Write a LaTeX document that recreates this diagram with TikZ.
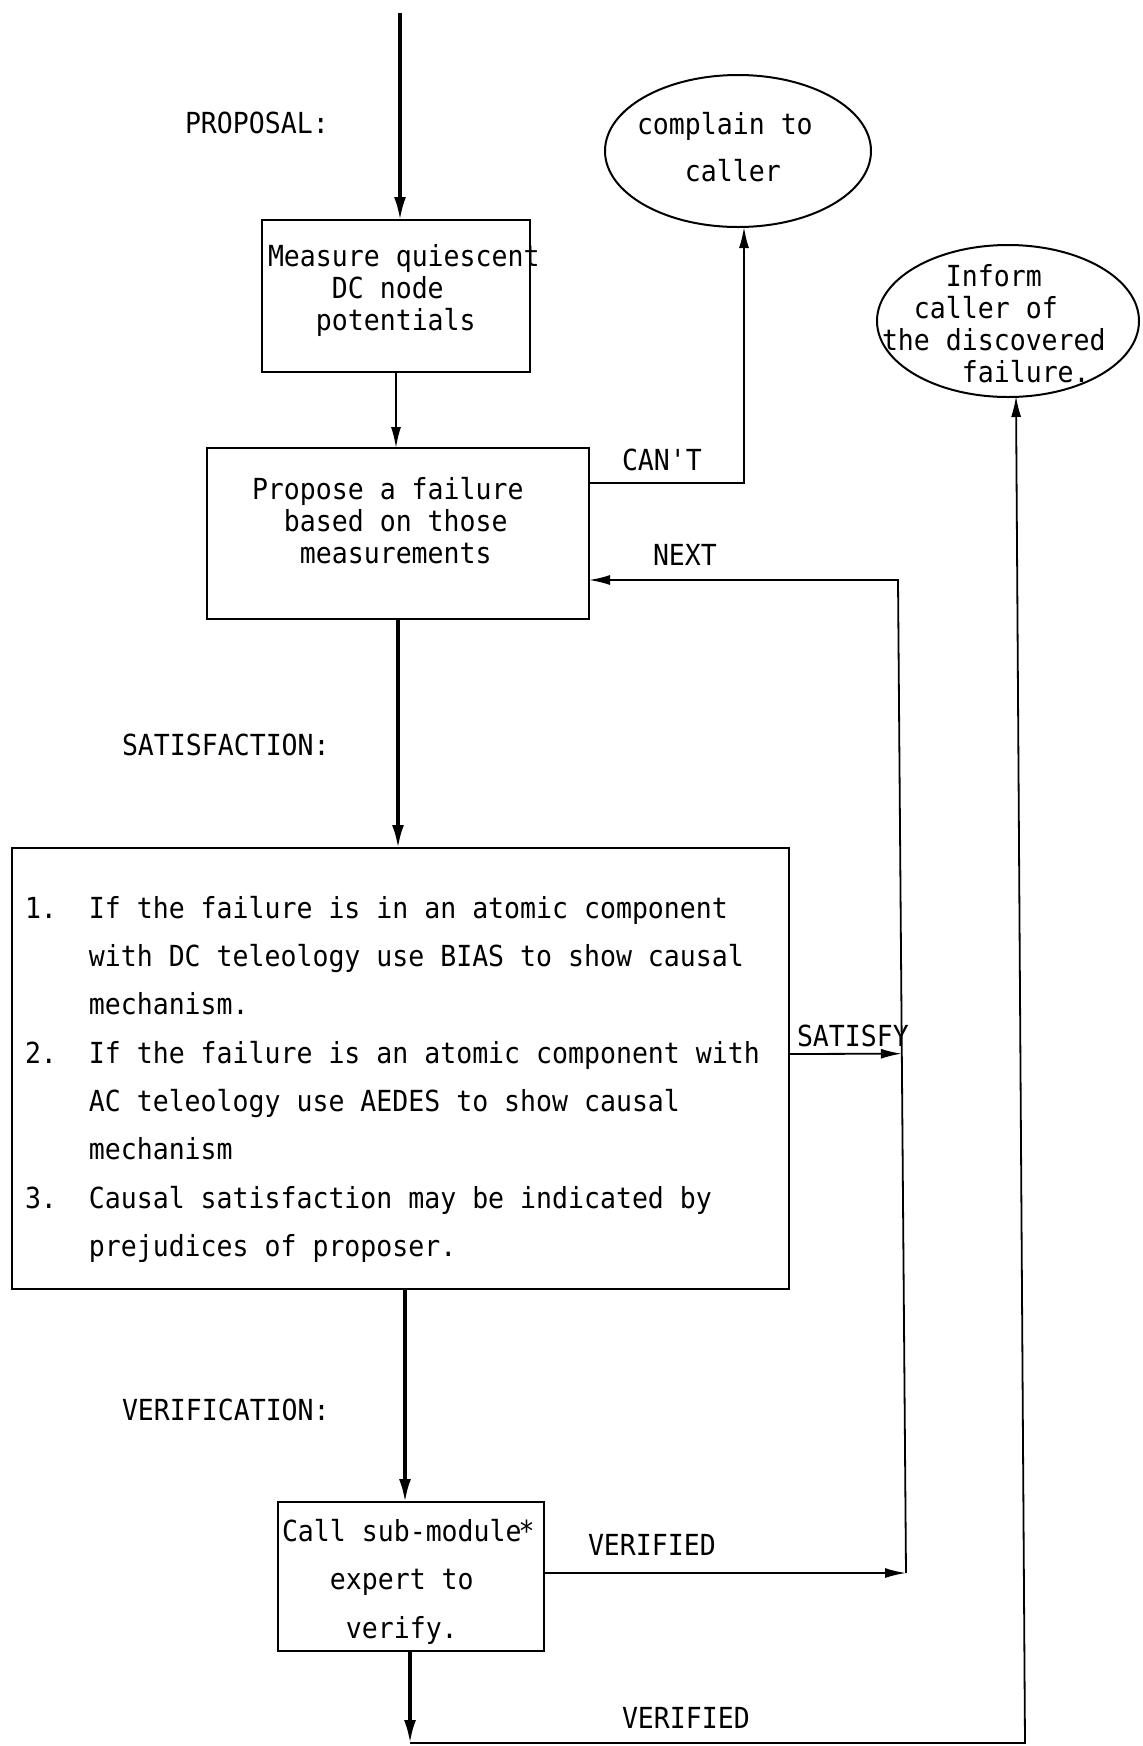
\documentclass[tikz,border=0pt]{standalone}
\usepackage{fontspec}
\setmonofont[FakeStretch=0.915]{DejaVu Sans Mono}
\usetikzlibrary{arrows.meta,shapes.geometric,calc}
\frenchspacing
\tikzset{
  txt/.style={font=\ttfamily\fontsize{29}{32}\selectfont, inner sep=0pt, outer sep=0pt, align=left},
  txtwide/.style={txt, font=\ttfamily\fontsize{29}{48.3}\selectfont},
  frame/.style={draw, line width=2pt, inner sep=0pt, outer sep=0pt},
  oval/.style={frame, ellipse},
  wire/.style={line width=1.8pt},
  flow/.style={wire, -{Latex[length=21pt,width=10pt]}},
  heavy/.style={line width=3.2pt, -{Latex[length=23pt,width=12pt]}},
}
\begin{document}
\begin{tikzpicture}[x=1pt,y=-1pt]
\fill[white] (0,0) rectangle (1143,1746);
\useasboundingbox (0,0) rectangle (1143,1746);

% boxes and ovals
\node[frame, minimum width=268pt, minimum height=152pt] (measure) at (396,296) {};
\node[frame, minimum width=382pt, minimum height=171pt] (propose) at (398,533.5) {};
\node[frame, minimum width=777pt, minimum height=441pt] (conds) at (400.5,1068.5) {};
\node[frame, minimum width=266pt, minimum height=149pt] (verify) at (411,1576.5) {};
\node[oval, minimum width=266pt, minimum height=152pt] (complain) at (738,151) {};
\node[oval, minimum width=262pt, minimum height=152pt] (inform) at (1008,321) {};

% texts inside the shapes
\node[txt, anchor=north west] (measuretext) at (268,244)
  {Measure quiescent\\\hphantom{0000}DC node\\\hphantom{000}potentials};
\node[txt, anchor=north west] (proposetext) at (252,477)
  {Propose a failure\\\hphantom{00}based on those\\\hphantom{000}measurements};
\node[txt, font=\ttfamily\fontsize{29}{47}\selectfont, anchor=north west] (complaintext) at (637,112)
  {complain to\\\hphantom{000}caller};
\node[txt, anchor=north west] (informtext) at (882,264)
  {\hphantom{0000}Inform\\\hphantom{00}caller of\\the discovered\\\hphantom{00000}failure.};
\node[txtwide, anchor=north west] (condstext) at (25,896)
  {1.\hphantom{00}If the failure is in an atomic component\\
   \hphantom{0000}with DC teleology use BIAS to show causal\\
   \hphantom{0000}mechanism.\\
   2.\hphantom{00}If the failure is an atomic component with\\
   \hphantom{0000}AC teleology use AEDES to show causal\\
   \hphantom{0000}mechanism\\
   3.\hphantom{00}Causal satisfaction may be indicated by\\
   \hphantom{0000}prejudices of proposer.};
\node[txt, font=\ttfamily\fontsize{29}{48.5}\selectfont, anchor=north west] (verifytext) at (282,1519)
  {Call sub-module\kern-3pt*\\\hphantom{000}expert to\\\hphantom{0000}verify.};

% phase and branch labels
\node[txt, anchor=west] (lproposal) at (185,123) {PROPOSAL:};
\node[txt, anchor=west] (lsatisfaction) at (122,745) {SATISFACTION:};
\node[txt, anchor=west] (lverification) at (122,1410) {VERIFICATION:};
\node[txt, anchor=west] (lcant) at (622,460) {CAN'T};
\node[txt, anchor=west] (lnext) at (653,555) {NEXT};
\node[txt, anchor=west] (lsatisfy) at (797,1036) {SATISFY};
\node[txt, anchor=west] (lverified) at (588,1545) {VERIFIED};
\node[txt, anchor=west] (lverifiedlow) at (622,1718) {VERIFIED};

% routing points
\coordinate (entry) at (400,13);
\coordinate (cantturn) at (744,483);
\coordinate (looptop) at (898,580);
\coordinate (loopbot) at (906,1573);
\coordinate (satend) at ($(looptop)!0.477!(loopbot)$);
\coordinate (satstart) at (0,1054);
\coordinate (condsout) at ($(conds.south)+(4.5,0)$);
\coordinate (verifyout) at (410,1651);
\coordinate (botleft) at (410,1743);
\coordinate (botright) at (1025,1743);
\coordinate (informin) at (1016,396);

% main flow
\draw[heavy] (entry) -- (entry |- measure.north);
\draw[flow] (measure.south) -- (measure.south |- propose.north);
\draw[heavy] (propose.south) -- (propose.south |- conds.north);
\draw[heavy] (condsout) -- (condsout |- verify.north);

% CAN'T branch
\draw[flow] (propose.east |- cantturn) -- (cantturn) -- (cantturn |- complain.south);

% NEXT loop fed by SATISFY and VERIFIED
\draw[flow] (loopbot) -- (looptop) -- (propose.east |- looptop);
\draw[flow] (conds.east |- satstart) -- (satend);
\draw[flow] (verify.east |- loopbot) -- (loopbot);

% final VERIFIED path to the caller
\draw[heavy] (verifyout) -- (botleft);
\draw[flow] (botleft) -- (botright) -- (informin);
\end{tikzpicture}
\end{document}
